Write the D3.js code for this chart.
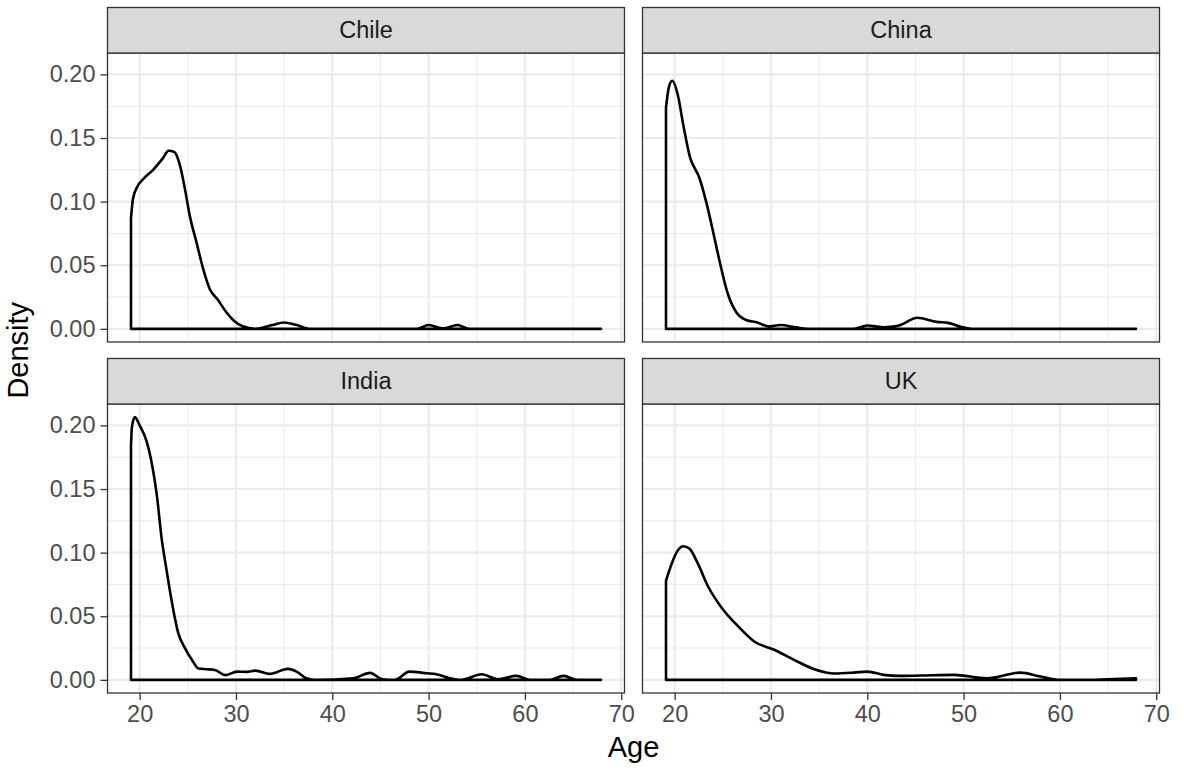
<!DOCTYPE html>
<html>
<head>
<meta charset="utf-8">
<script src="https://cdn.jsdelivr.net/npm/d3@7"></script>
<style>
  body { margin: 0; background: #ffffff; }
  svg { display: block; font-family: "Liberation Sans", Arial, Helvetica, sans-serif; }
</style>
</head>
<body>
<svg id="chart" width="1184" height="773"></svg>
<script>
// ---- data ----
const countries = ["Chile", "China", "India", "UK"];

const chileAge = [19.1,19.3,19.7,20.4,21.4,22.4,23.0,23.6,24.2,24.7,25.2,25.9,26.6,27.3,28.1,29.0,29.7,30.7,32.0,33.8,35.0,36.3,37.7,48.8,50.0,51.5,53.0,54.2,67.9];
const chileDensity = [0.087,0.102,0.111,0.118,0.125,0.134,0.140,0.139,0.128,0.110,0.089,0.068,0.047,0.031,0.023,0.013,0.007,0.002,0.0,0.003,0.005,0.003,0.0,0.0,0.003,0.0005,0.003,0.0,0.0];

const chinaAge = [19.1,19.4,19.75,20.35,20.9,21.55,22.6,23.3,24.0,24.7,25.5,26.4,27.4,28.6,29.7,31.0,32.4,33.8,38.5,40.0,41.7,43.2,45.2,47.2,48.4,49.7,50.8,67.9];
const chinaDensity = [0.174,0.190,0.195,0.183,0.160,0.136,0.118,0.099,0.076,0.052,0.028,0.013,0.007,0.005,0.002,0.003,0.0015,0.0,0.0,0.0027,0.0013,0.0024,0.0087,0.0055,0.0047,0.0016,0.0,0.0];

const indiaAge = [19.1,19.2,19.5,20.0,20.7,21.2,21.8,22.3,22.8,23.3,24.0,24.7,25.4,26.1,26.9,27.8,28.9,30.1,31.1,32.0,33.5,35.4,36.3,37.3,38.3,42.2,43.9,45.2,46.5,48.0,49.8,50.8,52.2,53.4,55.5,57.2,59.1,60.6,62.5,64.0,65.5,67.9];
const indiaDensity = [0.184,0.199,0.2065,0.200,0.188,0.1725,0.144,0.110,0.086,0.063,0.037,0.025,0.016,0.009,0.0084,0.0078,0.0037,0.0065,0.0063,0.0073,0.0047,0.0086,0.0065,0.0013,0.0,0.0013,0.0055,0.0005,0.0,0.0065,0.0052,0.0044,0.0013,0.0,0.0044,0.0005,0.0031,0.0,0.0,0.0031,0.0,0.0];

const ukAge = [19.1,19.7,20.35,20.9,21.55,22.4,23.5,24.8,26.6,28.3,30.4,32.4,34.5,36.6,38.6,40.0,41.7,43.3,45.6,49.0,52.4,55.9,58.0,60.0,62.5,64.9,67.9];
const ukDensity = [0.078,0.0915,0.102,0.105,0.103,0.0915,0.073,0.0575,0.042,0.030,0.0235,0.0157,0.0084,0.005,0.0057,0.0065,0.0039,0.0031,0.0034,0.0039,0.0013,0.0057,0.0026,0.0,0.0,0.0005,0.0013];

const xTicks = [20, 30, 40, 50, 60, 70];
const xMinor = [25, 35, 45, 55, 65];
const yTicks = [0, 0.05, 0.10, 0.15, 0.20];
const yMinor = [0.025, 0.075, 0.125, 0.175];
const xTitle = "Age";
const yTitle = "Density";

// ---- build ----
const series = {
  Chile: chileAge.map((a, i) => ({ age: a, d: chileDensity[i] })),
  China: chinaAge.map((a, i) => ({ age: a, d: chinaDensity[i] })),
  India: indiaAge.map((a, i) => ({ age: a, d: indiaDensity[i] })),
  UK: ukAge.map((a, i) => ({ age: a, d: ukDensity[i] }))
};

const allAges = [].concat(chileAge, chinaAge, indiaAge, ukAge);
const allDens = [].concat(chileDensity, chinaDensity, indiaDensity, ukDensity);
const xMin = d3.min(allAges), xMax = d3.max(allAges);
const xPad = (xMax - xMin) * 0.05;
const yMaxV = d3.max(allDens);
const yPad = yMaxV * 0.05;

const svg = d3.select("#chart");

const cols = [{ x0: 107.5, x1: 624.5 }, { x0: 642.5, x1: 1159.5 }];
const rows = [{ s0: 7.5, p0: 53, p1: 342 }, { s0: 358.5, p0: 404, p1: 693 }];

const x = [0, 1].map(c => d3.scaleLinear().domain([xMin - xPad, xMax + xPad]).range([cols[c].x0, cols[c].x1]));
const y = [0, 1].map(r => d3.scaleLinear().domain([-yPad, yMaxV + yPad]).range([rows[r].p1, rows[r].p0]));

countries.forEach((name, i) => {
  const c = i % 2, r = Math.floor(i / 2);
  const xs = x[c], ys = y[r];
  const g = svg.append("g");
  const col = cols[c], row = rows[r];

  g.append("rect").attr("x", col.x0).attr("y", row.p0).attr("width", col.x1 - col.x0).attr("height", row.p1 - row.p0)
    .attr("fill", "#ffffff");

  // minor grid
  g.selectAll(".xminor").data(xMinor).enter().append("line")
    .attr("x1", d => xs(d)).attr("x2", d => xs(d)).attr("y1", row.p0).attr("y2", row.p1)
    .attr("stroke", "#EBEBEB").attr("stroke-width", 1.1);
  g.selectAll(".yminor").data(yMinor).enter().append("line")
    .attr("y1", d => ys(d)).attr("y2", d => ys(d)).attr("x1", col.x0).attr("x2", col.x1)
    .attr("stroke", "#EBEBEB").attr("stroke-width", 1.1);
  // major grid
  g.selectAll(".xmajor").data(xTicks.filter(t => xs(t) < col.x1)).enter().append("line")
    .attr("x1", d => xs(d)).attr("x2", d => xs(d)).attr("y1", row.p0).attr("y2", row.p1)
    .attr("stroke", "#EBEBEB").attr("stroke-width", 2.2);
  g.selectAll(".ymajor").data(yTicks).enter().append("line")
    .attr("y1", d => ys(d)).attr("y2", d => ys(d)).attr("x1", col.x0).attr("x2", col.x1)
    .attr("stroke", "#EBEBEB").attr("stroke-width", 2.2);

  // density outline
  const area = d3.area()
    .x(d => xs(d.age))
    .y0(ys(0))
    .y1(d => ys(d.d))
    .curve(d3.curveMonotoneX);
  g.append("path").datum(series[name]).attr("d", area)
    .attr("fill", "none").attr("stroke", "#000000").attr("stroke-width", 2.6)
    .attr("stroke-linejoin", "round");

  // panel border
  g.append("rect").attr("x", col.x0).attr("y", row.p0).attr("width", col.x1 - col.x0).attr("height", row.p1 - row.p0)
    .attr("fill", "none").attr("stroke", "#333333").attr("stroke-width", 1.3);

  // strip
  g.append("rect").attr("x", col.x0).attr("y", row.s0).attr("width", col.x1 - col.x0).attr("height", row.p0 - row.s0)
    .attr("fill", "#D9D9D9").attr("stroke", "#333333").attr("stroke-width", 1.3);
  g.append("text").attr("x", (col.x0 + col.x1) / 2).attr("y", (row.s0 + row.p0) / 2)
    .attr("text-anchor", "middle").attr("dominant-baseline", "central")
    .attr("font-size", 23.5).attr("fill", "#1A1A1A").text(name);

  if (c === 0) {
    const ax = d3.axisLeft(ys).tickValues(yTicks).tickFormat(d3.format(".2f")).tickSize(7).tickPadding(5);
    const ag = g.append("g").attr("transform", `translate(${col.x0},0)`).call(ax);
    ag.select(".domain").remove();
    ag.selectAll(".tick line").attr("stroke", "#333333").attr("stroke-width", 1.3);
    ag.selectAll(".tick text").attr("font-size", 23.5).attr("fill", "#4D4D4D")
      .attr("font-family", "Liberation Sans, Arial, sans-serif");
  }
  if (r === 1) {
    const ax = d3.axisBottom(xs).tickValues(xTicks).tickFormat(d3.format("d")).tickSize(7).tickPadding(5);
    const ag = g.append("g").attr("transform", `translate(0,${row.p1})`).call(ax);
    ag.select(".domain").remove();
    ag.selectAll(".tick line").attr("stroke", "#333333").attr("stroke-width", 1.3);
    ag.selectAll(".tick text").attr("font-size", 23.5).attr("fill", "#4D4D4D")
      .attr("font-family", "Liberation Sans, Arial, sans-serif");
  }
});

svg.append("text").attr("x", (cols[0].x0 + cols[1].x1) / 2).attr("y", 757)
  .attr("text-anchor", "middle").attr("font-size", 29).attr("fill", "#000").text(xTitle);
svg.append("text").attr("transform", `translate(28,${(rows[0].s0 + rows[1].p1) / 2}) rotate(-90)`)
  .attr("text-anchor", "middle").attr("font-size", 29).attr("fill", "#000").text(yTitle);
</script>
</body>
</html>
